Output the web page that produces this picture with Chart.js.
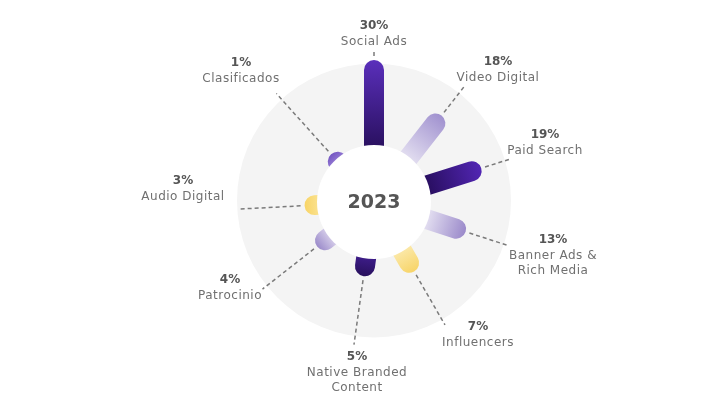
<!DOCTYPE html>
<html>
<head>
<meta charset="utf-8">
<script src="https://cdn.jsdelivr.net/npm/chart.js@4.4.1/dist/chart.umd.min.js"></script>
<style>
  html,body{margin:0;padding:0;background:#ffffff;}
  #wrap{width:720px;height:400px;}
</style>
</head>
<body>
<div id="wrap"><canvas id="c" width="720" height="400"></canvas></div>
<script>
// ---- data ----
const CATEGORIES = ['Social Ads', 'Video Digital', 'Paid Search', ['Banner Ads &', 'Rich Media'],
  'Influencers', ['Native Branded', 'Content'], 'Patrocinio', 'Audio Digital', 'Clasificados'];
const VALUES = [30, 18, 19, 13, 7, 5, 4, 3, 1];
const PCT_LABELS = VALUES.map(v => v + '%');
const CENTER_LABEL = '2023';

// ---- layout / style ----
const ANGLES = [0, 38, 72.5, 108, 150, 188, 232, 267, 318];        // degrees clockwise from top
const LABEL_POS = [[0, -176], [124, -140], [171, -67], [179, 38], [104, 125],
  [-17, 155], [-144, 78], [-191, -21], [-133, -139]];               // px offsets from centre
const LEADER_END = [150, 148, 143, 140, 142, 144, 141.5, 136, 146];
const BAR_COLORS = [
  ['#2b1162', '#5a2fbb'],
  ['#e0dbef', '#a091cf'],
  ['#2a0f63', '#5226b4'],
  ['#e0dbef', '#9a89ca'],
  ['#fbe7a4', '#f7d468'],
  ['#3c1c86', '#28105c'],
  ['#cfc6e6', '#9b8bca'],
  ['#fae08a', '#f8d466'],
  ['#8d72d0', '#7456c2']
];
const INNER_R = 57, BG_R = 137, BAR_W = 20, BASE_R = 61.5, PX_PER_PCT = 2.68;

function pt(r, deg) {
  const a = deg * Math.PI / 180;
  return { x: r * Math.sin(a), y: r * Math.cos(a) };
}
const tipR = v => BASE_R + PX_PER_PCT * v;

const datasets = [];
datasets.push({
  data: [{ x: 0, y: 1.5 }], pointRadius: BG_R, backgroundColor: '#f4f4f4',
  borderWidth: 0, borderColor: 'transparent', order: 4, clip: false
});
VALUES.forEach((v, i) => {
  const R = tipR(v);
  datasets.push({
    data: [pt(R + 4, ANGLES[i]), pt(LEADER_END[i], ANGLES[i])],
    showLine: true, pointRadius: 0, borderColor: '#7a7a7a', borderWidth: 1.5,
    borderDash: [4, 3], order: 2, clip: false
  });
  datasets.push({
    data: [pt(30, ANGLES[i]), pt(R - BAR_W / 2, ANGLES[i])],
    showLine: true, pointRadius: 0, borderWidth: BAR_W, borderCapStyle: 'round',
    order: 1, clip: false,
    borderColor: (ctx) => {
      const chart = ctx.chart;
      const xs = chart.scales.x, ys = chart.scales.y;
      if (!chart.chartArea || !xs || !ys) return BAR_COLORS[i][1];
      const p0 = pt(INNER_R, ANGLES[i]), p1 = pt(R, ANGLES[i]);
      const g = chart.ctx.createLinearGradient(
        xs.getPixelForValue(p0.x), ys.getPixelForValue(p0.y),
        xs.getPixelForValue(p1.x), ys.getPixelForValue(p1.y));
      g.addColorStop(0, BAR_COLORS[i][0]);
      g.addColorStop(1, BAR_COLORS[i][1]);
      return g;
    }
  });
});
datasets.push({
  data: [{ x: 0, y: 0 }], pointRadius: INNER_R, backgroundColor: '#ffffff',
  borderWidth: 0, borderColor: 'transparent', order: 0, clip: false
});

const labelPlugin = {
  id: 'labels',
  afterDraw(chart) {
    const ctx = chart.ctx, xs = chart.scales.x, ys = chart.scales.y;
    ctx.save();
    ctx.textAlign = 'center';
    ctx.textBaseline = 'middle';
    ctx.fillStyle = '#555555';
    ctx.font = 'bold 19px "DejaVu Sans"';
    ctx.fillText(CENTER_LABEL, xs.getPixelForValue(0), ys.getPixelForValue(0) + 1);
    CATEGORIES.forEach((cat, i) => {
      const x = xs.getPixelForValue(LABEL_POS[i][0]);
      let y = ys.getPixelForValue(-LABEL_POS[i][1]);
      ctx.fillStyle = '#555555';
      ctx.font = 'bold 12px "DejaVu Sans"';
      if ('letterSpacing' in ctx) ctx.letterSpacing = '0px';
      ctx.fillText(PCT_LABELS[i], x, y);
      ctx.fillStyle = '#707070';
      ctx.font = '12px "DejaVu Sans"';
      if ('letterSpacing' in ctx) ctx.letterSpacing = '0.5px';
      const lines = Array.isArray(cat) ? cat : [cat];
      y += 16;
      lines.forEach(l => { ctx.fillText(l, x, y); y += 15; });
    });
    ctx.restore();
  }
};

new Chart(document.getElementById('c'), {
  type: 'scatter',
  data: { datasets },
  options: {
    responsive: false,
    animation: false,
    events: [],
    layout: { padding: 0, autoPadding: false },
    plugins: { legend: { display: false }, tooltip: { enabled: false } },
    scales: {
      x: { type: 'linear', display: false, min: -374, max: 346 },
      y: { type: 'linear', display: false, min: -198, max: 202 }
    }
  },
  plugins: [labelPlugin]
});
</script>
</body>
</html>
